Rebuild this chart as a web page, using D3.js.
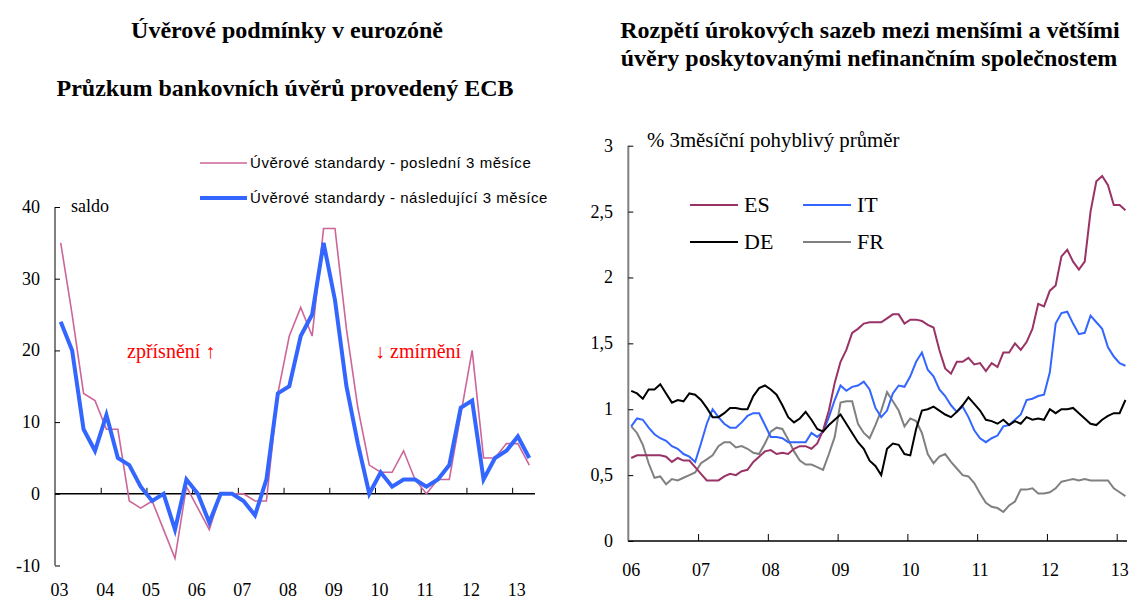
<!DOCTYPE html>
<html>
<head>
<meta charset="utf-8">
<script src="https://cdn.jsdelivr.net/npm/d3@7"></script>
<style>
  body { margin: 0; background: #fff; }
  svg text { font-family: "Liberation Serif", "Times New Roman", serif; }
</style>
</head>
<body>
<div id="chart"></div>
<script>
// left panel: ECB bank lending survey, quarterly 2003Q1 - 2013Q2
const surveyYears = ['03', '04', '05', '06', '07', '08', '09', '10', '11', '12', '13'];
const lastThreeMonths = [35, 25, 14, 13, 9, 9, -1, -2, -1, -5, -9, 1, -2, -5, 0, 0, 0, -1, -1, 14, 22, 26, 22, 37, 37, 23, 12, 4, 3, 3, 6, 2, 0, 2, 2, 11, 20, 5, 5, 7, 7, 4];
const nextThreeMonths = [24, 20, 9, 6, 11, 5, 4, 1, -1, 0, -5, 2, 0, -4, 0, 0, -1, -3, 2, 14, 15, 22, 25, 35, 27, 15, 7, 0, 3, 1, 2, 2, 1, 2, 4, 12, 13, 2, 5, 6, 8, 5];
const leftTicks = [-10, 0, 10, 20, 30, 40];

// right panel: monthly spreads, Jan 2006 - Feb 2013
const spreadYears = ['06', '07', '08', '09', '10', '11', '12', '13'];
const esSpread = [0.63, 0.65, 0.65, 0.65, 0.65, 0.65, 0.64, 0.60, 0.63, 0.61, 0.61, 0.56, 0.51, 0.46, 0.46, 0.46, 0.49, 0.51, 0.50, 0.53, 0.54, 0.60,
  0.64, 0.68, 0.69, 0.66, 0.67, 0.66, 0.70, 0.72, 0.72, 0.70, 0.74, 0.84, 0.99, 1.20, 1.36, 1.45, 1.58, 1.61, 1.65, 1.66,
  1.66, 1.66, 1.69, 1.72, 1.72, 1.65, 1.68, 1.68, 1.67, 1.64, 1.62, 1.45, 1.31, 1.27, 1.36, 1.36, 1.39, 1.34, 1.35, 1.29, 1.35, 1.32,
  1.43, 1.43, 1.50, 1.45, 1.51, 1.61, 1.80, 1.78, 1.90, 1.94, 2.16, 2.21, 2.12, 2.06, 2.12, 2.50, 2.73, 2.77, 2.70, 2.55, 2.55, 2.51];
const itSpread = [0.87, 0.93, 0.92, 0.86, 0.81, 0.78, 0.76, 0.72, 0.70, 0.66, 0.64, 0.60, 0.74, 0.89, 1.00, 0.94, 0.89, 0.86, 0.86, 0.90, 0.95, 0.97,
  0.97, 0.88, 0.79, 0.79, 0.78, 0.75, 0.75, 0.75, 0.75, 0.82, 0.79, 0.83, 0.94, 1.07, 1.18, 1.14, 1.17, 1.18, 1.21, 1.15,
  1.01, 0.94, 0.99, 1.12, 1.18, 1.17, 1.25, 1.36, 1.43, 1.30, 1.25, 1.15, 1.10, 1.03, 0.98, 1.02, 0.94, 0.84, 0.78, 0.75, 0.78, 0.80,
  0.87, 0.88, 0.92, 0.96, 1.07, 1.08, 1.10, 1.11, 1.28, 1.65, 1.73, 1.74, 1.65, 1.57, 1.58, 1.71, 1.66, 1.61, 1.47, 1.40, 1.35, 1.33];
const deSpread = [1.14, 1.12, 1.08, 1.15, 1.15, 1.19, 1.12, 1.05, 1.07, 1.06, 1.12, 1.11, 1.07, 1.01, 0.94, 0.94, 0.97, 1.01, 1.01, 1.00, 1.00, 1.10,
  1.16, 1.18, 1.15, 1.11, 1.03, 0.94, 0.90, 0.93, 0.98, 0.92, 0.85, 0.83, 0.88, 0.92, 0.96, 0.89, 0.82, 0.75, 0.70, 0.61,
  0.57, 0.50, 0.70, 0.74, 0.73, 0.66, 0.65, 0.85, 0.99, 1.00, 1.02, 0.99, 0.96, 0.94, 0.98, 1.03, 1.09, 1.04, 0.99, 0.92, 0.91, 0.89,
  0.92, 0.88, 0.91, 0.89, 0.94, 0.92, 0.93, 0.92, 1.00, 0.97, 1.00, 1.00, 1.01, 0.97, 0.93, 0.89, 0.88, 0.92, 0.95, 0.97, 0.97, 1.07];
const frSpread = [0.87, 0.82, 0.73, 0.59, 0.48, 0.49, 0.43, 0.47, 0.46, 0.48, 0.50, 0.52, 0.59, 0.62, 0.65, 0.72, 0.75, 0.75, 0.71, 0.72, 0.70, 0.67,
  0.66, 0.74, 0.83, 0.86, 0.85, 0.77, 0.68, 0.61, 0.58, 0.58, 0.56, 0.54, 0.66, 0.79, 1.05, 1.06, 1.06, 0.89, 0.82, 0.78,
  0.88, 0.99, 1.13, 1.06, 0.99, 0.87, 0.93, 0.91, 0.82, 0.66, 0.59, 0.64, 0.66, 0.60, 0.55, 0.50, 0.49, 0.44, 0.36, 0.29, 0.26, 0.25,
  0.22, 0.27, 0.30, 0.39, 0.39, 0.40, 0.36, 0.36, 0.37, 0.40, 0.45, 0.46, 0.47, 0.46, 0.47, 0.46, 0.46, 0.46, 0.46, 0.40, 0.37, 0.34];
const rightTicks = [0, 0.5, 1, 1.5, 2, 2.5, 3];

const svg = d3.select("#chart")
  .append("svg")
  .attr("width", 1129)
  .attr("height", 600);

// ---------- left panel ----------
const xL = d3.scaleLinear().domain([2003, 2013.5]).range([55, 535]);
const yL = d3.scaleLinear().domain([-10, 40]).range([565.5, 207]);

svg.append("text").attr("x", 287).attr("y", 38).attr("text-anchor", "middle")
  .style("font-weight", "bold").style("font-size", "24px").text("Úvěrové podmínky v eurozóně");
svg.append("text").attr("x", 285).attr("y", 96).attr("text-anchor", "middle")
  .style("font-weight", "bold").style("font-size", "24px").text("Průzkum bankovních úvěrů provedený ECB");

const left = svg.append("g");

left.append("g")
  .attr("transform", "translate(55,0)")
  .call(d3.axisRight(yL).tickValues(leftTicks).tickSize(5).tickFormat(""))
  .call(g => g.select(".domain").attr("d", `M0,${yL(40)}V${yL(-10)}`).attr("stroke", "#808080").attr("stroke-width", 2))
  .call(g => g.selectAll(".tick line").attr("stroke", "#000"));

left.selectAll(".ylab")
  .data(leftTicks)
  .enter()
  .append("text")
  .attr("x", 40)
  .attr("y", d => yL(d) + 6)
  .attr("text-anchor", "end")
  .style("font-size", "18px")
  .text(d => d);

left.append("g")
  .attr("transform", `translate(0,${yL(0)})`)
  .call(d3.axisTop(xL).tickValues(d3.range(2004, 2014)).tickSize(6).tickFormat(""))
  .call(g => g.select(".domain").attr("d", `M55,0H535`).attr("stroke", "#000").attr("stroke-width", 1.5))
  .call(g => g.selectAll(".tick line").attr("stroke", "#000"));

left.selectAll(".xlab")
  .data(surveyYears)
  .enter()
  .append("text")
  .attr("x", (d, i) => xL(2003 + i) + 4.5)
  .attr("y", 596)
  .attr("text-anchor", "middle")
  .style("font-size", "18px")
  .text(d => d);

const lineL = d3.line()
  .x((d, i) => xL(2003 + (i + 0.5) / 4))
  .y(d => yL(d));

left.append("path").datum(lastThreeMonths)
  .attr("d", lineL).attr("fill", "none").attr("stroke", "#CC6699").attr("stroke-width", 1.6);
left.append("path").datum(nextThreeMonths)
  .attr("d", lineL).attr("fill", "none").attr("stroke", "#3366FF").attr("stroke-width", 4).attr("stroke-linejoin", "miter");

left.append("text").attr("x", 71).attr("y", 212).style("font-size", "18px").text("saldo");
left.append("text").attr("x", 127).attr("y", 358).style("font-size", "20px").attr("fill", "#FF0000").text("zpřísnění ↑");
left.append("text").attr("x", 375).attr("y", 358).style("font-size", "20px").attr("fill", "#FF0000").text("↓ zmírnění");

const legL = [
  { label: "Úvěrové standardy - poslední 3 měsíce", color: "#CC6699", width: 1.6, y: 163 },
  { label: "Úvěrové standardy - následující 3 měsíce", color: "#3366FF", width: 4, y: 198 }
];
legL.forEach(l => {
  left.append("line").attr("x1", 200).attr("x2", 247).attr("y1", l.y).attr("y2", l.y)
    .attr("stroke", l.color).attr("stroke-width", l.width);
  left.append("text").attr("x", 250).attr("y", l.y + 5)
    .style("font-family", "'Liberation Sans', Arial, sans-serif").style("font-size", "15px")
    .style("letter-spacing", "0.55px")
    .text(l.label);
});

// ---------- right panel ----------
const xR = d3.scaleLinear().domain([2006, 2013]).range([628.3, 1116.7]);
const yR = d3.scaleLinear().domain([0, 3]).range([541, 145.7]);

svg.append("text").attr("x", 870).attr("y", 38).attr("text-anchor", "middle")
  .style("font-weight", "bold").style("font-size", "24px").text("Rozpětí úrokových sazeb mezi menšími a většími");
svg.append("text").attr("x", 869).attr("y", 66).attr("text-anchor", "middle")
  .style("font-weight", "bold").style("font-size", "24px").text("úvěry poskytovanými nefinančním společnostem");

const right = svg.append("g");

right.append("g")
  .attr("transform", "translate(628.3,0)")
  .call(d3.axisRight(yR).tickValues(rightTicks).tickSize(5).tickFormat(""))
  .call(g => g.select(".domain").attr("d", `M0,${yR(3)}V${yR(0)}`).attr("stroke", "#808080").attr("stroke-width", 2))
  .call(g => g.selectAll(".tick line").attr("stroke", "#000"));

right.selectAll(".ylab")
  .data(rightTicks)
  .enter()
  .append("text")
  .attr("x", 613)
  .attr("y", d => yR(d) + 6)
  .attr("text-anchor", "end")
  .style("font-size", "18px")
  .text(d => String(d).replace(".", ","));

right.append("g")
  .attr("transform", `translate(0,${yR(0)})`)
  .call(d3.axisTop(xR).tickValues(d3.range(2007, 2014)).tickSize(7).tickFormat(""))
  .call(g => g.select(".domain").attr("d", `M628.3,0H1127`).attr("stroke", "#000").attr("stroke-width", 1.5))
  .call(g => g.selectAll(".tick line").attr("stroke", "#000"));

right.selectAll(".xlab")
  .data(spreadYears)
  .enter()
  .append("text")
  .attr("x", (d, i) => xR(2006 + i) + 3)
  .attr("y", 576)
  .attr("text-anchor", "middle")
  .style("font-size", "18px")
  .text(d => d);

right.append("text").attr("x", 647).attr("y", 147).style("font-size", "20.8px").text("% 3měsíční pohyblivý průměr");

const lineR = d3.line()
  .x((d, i) => xR(2006 + (i + 0.5) / 12))
  .y(d => yR(d));

const series = [
  { name: "FR", values: frSpread, color: "#808080" },
  { name: "IT", values: itSpread, color: "#3366FF" },
  { name: "ES", values: esSpread, color: "#993366" },
  { name: "DE", values: deSpread, color: "#000000" }
];

series.forEach(s => {
  right.append("path").datum(s.values)
    .attr("d", lineR).attr("fill", "none").attr("stroke", s.color).attr("stroke-width", 2);
});

const legR = [
  { name: "ES", color: "#993366", x: 690, y: 205 },
  { name: "IT", color: "#3366FF", x: 803, y: 205 },
  { name: "DE", color: "#000000", x: 690, y: 242 },
  { name: "FR", color: "#808080", x: 803, y: 242 }
];
legR.forEach(l => {
  right.append("line").attr("x1", l.x).attr("x2", l.x + 48).attr("y1", l.y).attr("y2", l.y)
    .attr("stroke", l.color).attr("stroke-width", 2);
  right.append("text").attr("x", l.x + 54).attr("y", l.y + 7).style("font-size", "22px").text(l.name);
});
</script>
</body>
</html>
